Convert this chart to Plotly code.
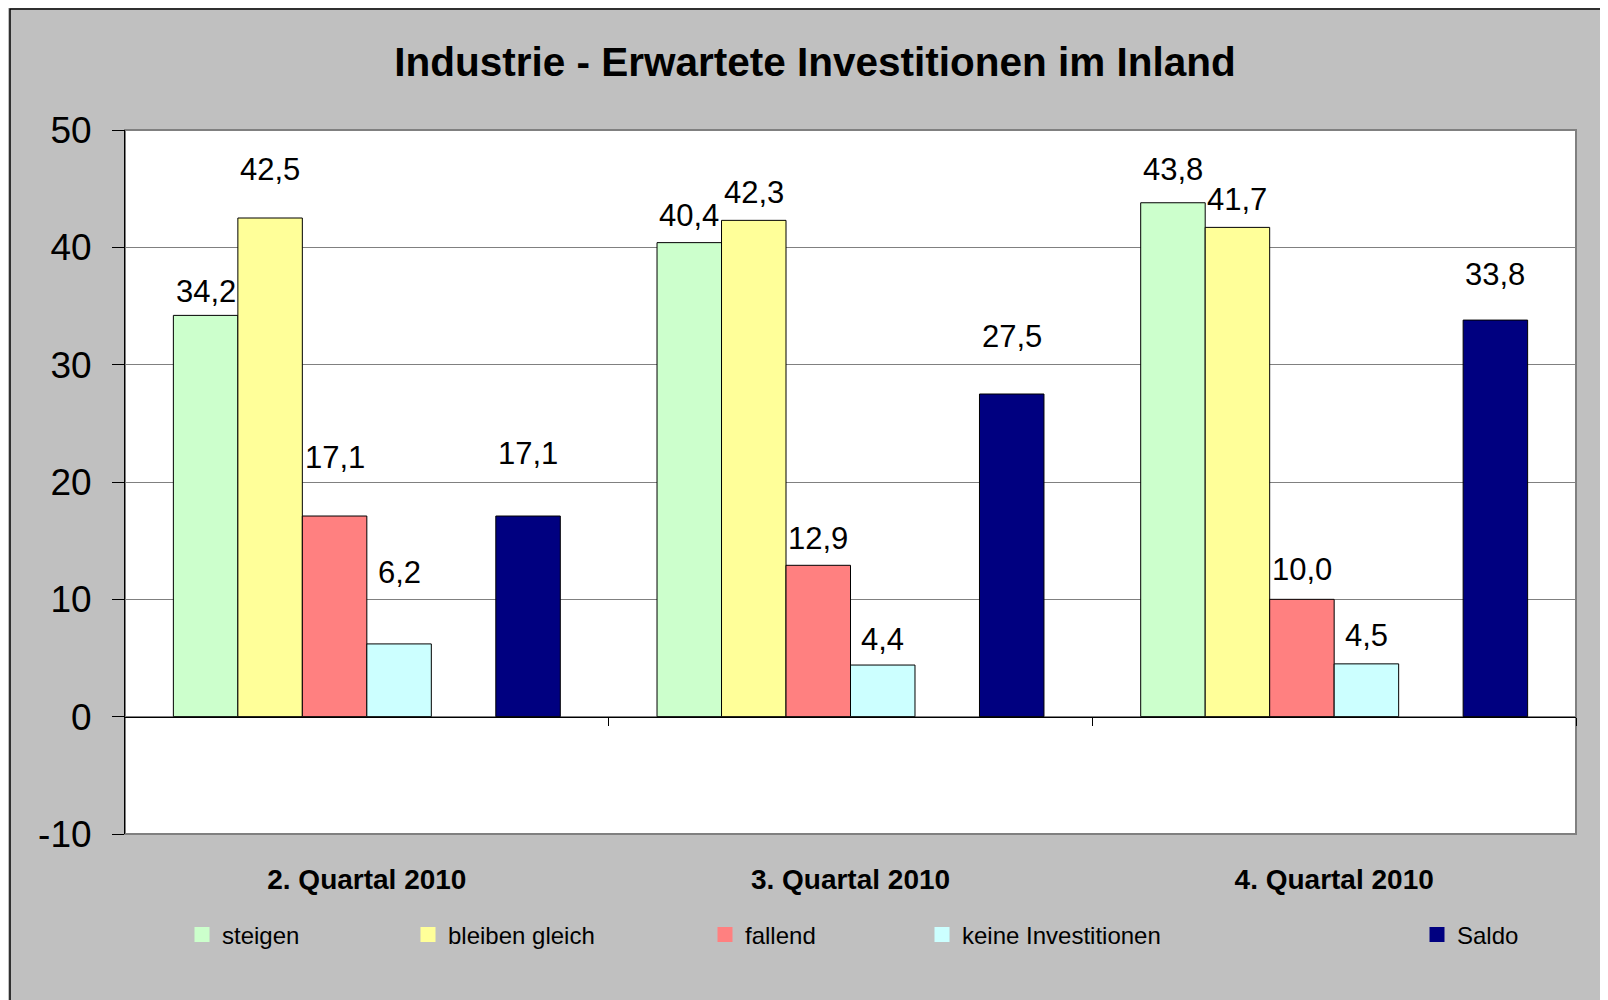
import plotly.graph_objects as go

# Data
quarters = ["2. Quartal 2010", "3. Quartal 2010", "4. Quartal 2010"]
steigen = [34.2, 40.4, 43.8]
bleiben_gleich = [42.5, 42.3, 41.7]
fallend = [17.1, 12.9, 10.0]
keine_investitionen = [6.2, 4.4, 4.5]
saldo = [17.1, 27.5, 33.8]

y_ticks = [-10, 0, 10, 20, 30, 40, 50]

# (name, values, colour, slot in group, legend marker left edge in page px)
series = [
    ("steigen", steigen, "#CCFFCC", 0, 198),
    ("bleiben gleich", bleiben_gleich, "#FFFF99", 1, 424),
    ("fallend", fallend, "#FF8080", 2, 721),
    ("keine Investitionen", keine_investitionen, "#CCFFFF", 3, 938),
    ("Saldo", saldo, "#000080", 5, 1433),
]

# how far each value label sits above its bar (px), per series per quarter
label_lift = [
    [24, 27, 33],
    [49, 28, 28],
    [59, 27, 30],
    [71, 26, 28],
    [63, 58, 46],
]

FONT = "Liberation Sans, Arial, sans-serif"
PAGE_OFF = 8  # default body margin of the html page
W, H = 1608 - PAGE_OFF, 1000 - PAGE_OFF
L, T = 125 - PAGE_OFF, 130 - PAGE_OFF
R = W - (1576 - PAGE_OFF)
B = H - (834 - PAGE_OFF)
plot_w = W - L - R
plot_h = H - T - B


def page_x(px):
    return (px - PAGE_OFF - L) / plot_w


def page_y(py):
    return (H - B - (py - PAGE_OFF)) / plot_h


slot_w = 0.8 / 6
xs = list(range(len(quarters)))

fig = go.Figure()
annotations = []

for idx, (name, vals, color, slot, leg_px) in enumerate(series):
    fig.add_trace(go.Bar(
        x=xs, y=vals, name=name,
        width=slot_w, offset=-0.4 + slot * slot_w,
        marker=dict(color=color, line=dict(color="black", width=1)),
        showlegend=False, hoverinfo="y",
    ))
    # legend-only entry (square without outline)
    legend_id = "legend" if idx == 0 else f"legend{idx + 1}"
    fig.add_trace(go.Scatter(
        x=[None], y=[None], mode="markers", name=name,
        marker=dict(symbol="square", size=15, color=color),
        xaxis="x2", legend=legend_id,
    ))
    for i, v in enumerate(vals):
        annotations.append(dict(
            x=i - 0.4 + (slot + 0.5) * slot_w, y=v,
            xref="x", yref="y",
            text=f"{v:.1f}".replace(".", ","),
            showarrow=False, yanchor="middle", yshift=label_lift[idx][i],
            font=dict(family=FONT, size=31, color="black"),
        ))

legends = {}
for idx, (name, vals, color, slot, leg_px) in enumerate(series):
    key = "legend" if idx == 0 else f"legend{idx + 1}"
    legends[key] = dict(
        x=page_x(leg_px - 16), y=page_y(935),
        xanchor="left", yanchor="middle", orientation="h",
        bgcolor="rgba(0,0,0,0)", borderwidth=0,
        font=dict(family=FONT, size=24, color="black"),
    )

fig.update_layout(
    width=W, height=H,
    margin=dict(l=L, r=R, t=T, b=B),
    paper_bgcolor="#C0C0C0",
    plot_bgcolor="white",
    barmode="overlay",
    title=dict(
        text="Industrie - Erwartete Investitionen im Inland",
        x=(815 - PAGE_OFF) / W, xref="container", xanchor="center",
        y=1 - (62 - PAGE_OFF) / H, yref="container", yanchor="middle",
        font=dict(family=FONT, size=40.5, color="black", weight="bold"),
    ),
    xaxis=dict(
        range=[-0.5, 2.5], tickvals=xs, ticktext=quarters,
        ticks="", showgrid=False, zeroline=False, showline=False,
        tickfont=dict(family=FONT, size=28, color="black", weight="bold"),
        ticklabelstandoff=26,
    ),
    xaxis2=dict(
        overlaying="x", anchor="free", position=10 / 60, side="bottom",
        range=[-0.5, 2.5], tickvals=[0.5, 1.5, 2.5],
        ticks="outside", ticklen=8, tickcolor="black",
        showticklabels=False, showgrid=False, zeroline=False,
        showline=True, linecolor="black", linewidth=1,
    ),
    yaxis=dict(
        range=[-10, 50], tickvals=y_ticks, ticktext=[str(t) for t in y_ticks],
        ticks="outside", ticklen=12, tickcolor="black",
        showline=True, linecolor="black", linewidth=1,
        showgrid=True, gridcolor="#808080", gridwidth=1, zeroline=False,
        tickfont=dict(family=FONT, size=37, color="black"),
        ticklabelstandoff=13,
    ),
    annotations=annotations,
    shapes=[
        # plot area border
        dict(type="rect", xref="paper", yref="paper", x0=0, x1=1, y0=0, y1=1,
             line=dict(color="#808080", width=2), layer="below"),
        # outer chart frame (top edge sits at the very top of the figure)
        dict(type="rect", xref="paper", yref="paper",
             x0=page_x(10), x1=1.5, y0=-1, y1=page_y(PAGE_OFF + 1),
             line=dict(color="black", width=1.5)),
    ],
    hovermode="closest",
    **legends,
)

fig.write_html("out.html")
